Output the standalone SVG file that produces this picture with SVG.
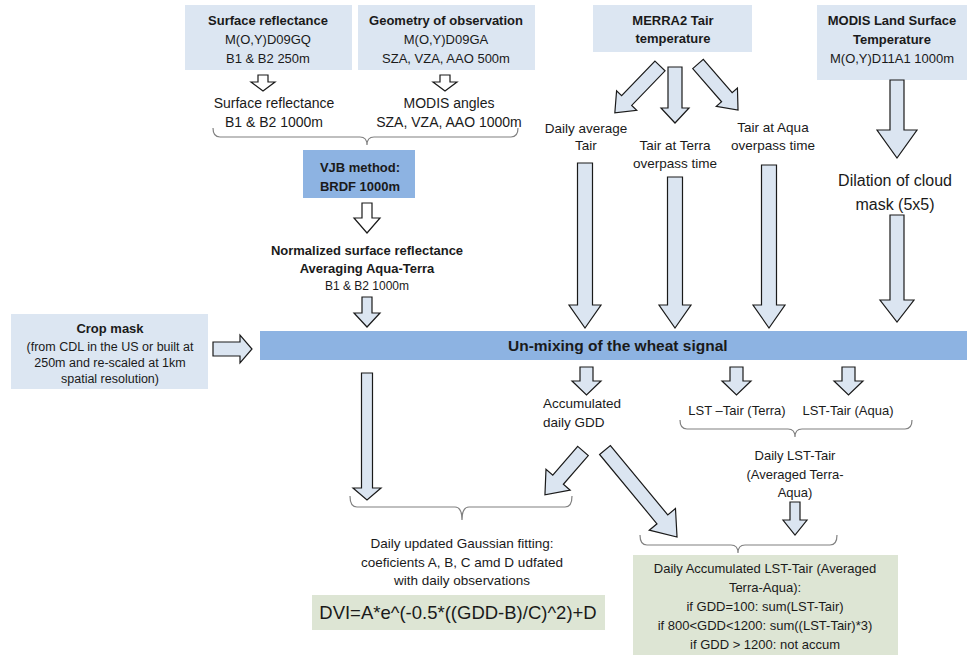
<svg xmlns="http://www.w3.org/2000/svg" width="967" height="659" viewBox="0 0 967 659">
<style>
text{font-family:"Liberation Sans",Arial,sans-serif;fill:#1a1a1a;text-anchor:middle}
.b{font-weight:bold}
.lb{fill:#dce6f2}
.mb{fill:#8db3e2}
.gr{fill:#dde5d4}
.ar{fill:#dbe5f1;stroke:#1a1a1a;stroke-width:1.2;stroke-linejoin:miter}
.aw{fill:#ffffff;stroke:#1a1a1a;stroke-width:1.2}
.br{fill:none;stroke:#808080;stroke-width:1.2}
</style>
<rect width="967" height="659" fill="#ffffff"/>
<g id="surface-reflectance">
<rect class="lb" x="185" y="5" width="167" height="65"/>
<text x="268" y="25" font-size="13" class="b">Surface reflectance</text>
<text x="268" y="44" font-size="13">M(O,Y)D09GQ</text>
<text x="268" y="63" font-size="13">B1 &amp; B2 250m</text>
</g>
<g id="geometry">
<rect class="lb" x="358" y="5" width="177" height="65"/>
<text x="446" y="25" font-size="13" class="b">Geometry of observation</text>
<text x="446" y="44" font-size="13">M(O,Y)D09GA</text>
<text x="446" y="63" font-size="13">SZA, VZA, AAO 500m</text>
</g>
<g id="merra2">
<rect class="lb" x="593" y="5" width="159" height="47"/>
<text x="673" y="25" font-size="13" class="b">MERRA2 Tair</text>
<text x="673" y="43" font-size="13" class="b">temperature</text>
</g>
<g id="modis-lst">
<rect class="lb" x="817" y="5" width="150" height="75"/>
<text x="892" y="25" font-size="13" class="b">MODIS Land Surface</text>
<text x="892" y="44" font-size="13" class="b">Temperature</text>
<text x="892" y="63" font-size="13">M(O,Y)D11A1 1000m</text>
</g>
<g id="sr-1000">
<text x="274" y="108" font-size="14">Surface reflectance</text>
<text x="274" y="127" font-size="14">B1 &amp; B2 1000m</text>
</g>
<g id="modis-angles">
<text x="449" y="108" font-size="14">MODIS angles</text>
<text x="449" y="127" font-size="14">SZA, VZA, AAO 1000m</text>
</g>
<g id="vjb">
<rect class="mb" x="303" y="150" width="112" height="48"/>
<text x="360" y="172" font-size="13" class="b">VJB method:</text>
<text x="360" y="191" font-size="13" class="b">BRDF 1000m</text>
</g>
<g id="normalized">
<text x="367" y="255" font-size="13" class="b">Normalized surface reflectance</text>
<text x="367" y="273" font-size="13" class="b">Averaging Aqua-Terra</text>
<text x="367" y="290" font-size="12">B1 &amp; B2 1000m</text>
</g>
<g id="daily-avg-tair">
<text x="586" y="133" font-size="13.5">Daily average</text>
<text x="586" y="150" font-size="13.5">Tair</text>
</g>
<g id="tair-terra">
<text x="675" y="150" font-size="13.5">Tair at Terra</text>
<text x="675" y="168" font-size="13.5">overpass time</text>
</g>
<g id="tair-aqua">
<text x="773" y="132" font-size="13.5">Tair at Aqua</text>
<text x="773" y="150" font-size="13.5">overpass time</text>
</g>
<g id="dilation">
<text x="895" y="186" font-size="16">Dilation of cloud</text>
<text x="895" y="210" font-size="16">mask (5x5)</text>
</g>
<g id="crop-mask">
<rect class="lb" x="11" y="314" width="197" height="75"/>
<text x="110" y="333" font-size="13" class="b">Crop mask</text>
<text x="110" y="351" font-size="12.5">(from CDL in the US or built at</text>
<text x="110" y="367" font-size="12.5">250m and re-scaled at 1km</text>
<text x="110" y="383" font-size="12.5">spatial resolution)</text>
</g>
<g id="unmixing">
<rect class="mb" x="260" y="331" width="707" height="29"/>
<text x="508" y="351" font-size="15.5" class="b" style="text-anchor:start">Un-mixing of the wheat signal</text>
</g>
<g id="accum-gdd">
<text x="543" y="408" font-size="13.5" style="text-anchor:start">Accumulated</text>
<text x="543" y="427" font-size="13.5" style="text-anchor:start">daily GDD</text>
</g>
<g id="lst-terra">
<text x="737" y="415" font-size="13">LST –Tair (Terra)</text>
</g>
<g id="lst-aqua">
<text x="848" y="415" font-size="13">LST-Tair (Aqua)</text>
</g>
<g id="daily-lst">
<text x="795" y="460" font-size="13">Daily LST-Tair</text>
<text x="795" y="479" font-size="13">(Averaged Terra-</text>
<text x="795" y="497" font-size="13">Aqua)</text>
</g>
<g id="gaussian">
<text x="462" y="548" font-size="13.5">Daily updated Gaussian fitting:</text>
<text x="462" y="567" font-size="13.5">coeficients A, B, C amd D udfated</text>
<text x="462" y="585" font-size="13.5">with daily observations</text>
</g>
<g id="dvi">
<rect class="gr" x="312" y="595" width="293" height="35"/>
<text x="458" y="619" font-size="18.5">DVI=A*e^(-0.5*((GDD-B)/C)^2)+D</text>
</g>
<g id="accum-lst">
<rect class="gr" x="633" y="555" width="265" height="100"/>
<text x="765" y="573" font-size="13">Daily Accumulated LST-Tair (Averaged</text>
<text x="765" y="592" font-size="13">Terra-Aqua):</text>
<text x="765" y="611" font-size="13">if GDD=100: sum(LST-Tair)</text>
<text x="765" y="630" font-size="13">if 800&lt;GDD&lt;1200: sum((LST-Tair)*3)</text>
<text x="765" y="649" font-size="13">if GDD &gt; 1200: not accum</text>
</g>
<g id="connectors">
<polygon class="aw" points="258,75 268,75 268,82 275,82 263,91 251,82 258,82"/>
<polygon class="aw" points="440,75 450,75 450,82 457,82 445,91 433,82 440,82"/>
<path class="br" d="M213,128 Q213,137 220,137 L360,137 Q367,137 367,145 Q367,137 374,137 L511,137 Q518,137 518,128"/>
<polygon class="aw" points="362,203 372,203 372,218 380,218 367,233 354,218 362,218"/>
<polygon class="ar" points="362,297 372,297 372,313 380,313 367,327 354,313 362,313"/>
<polygon class="ar" points="213,342 240,342 240,335 252,349 240,363 240,356 213,356"/>
<polygon class="ar" transform="translate(660,66) rotate(44)" points="-7,0 7,0 7,48 14,48 0,65 -14,48 -7,48"/>
<polygon class="ar" points="668,67 682,67 682,108 689,108 675,123 661,108 668,108"/>
<polygon class="ar" transform="translate(698,64) rotate(-41)" points="-7,0 7,0 7,44 14,44 0,61 -14,44 -7,44"/>
<polygon class="ar" points="577.5,163 592.5,163 592.5,305 601,305 585,328 569,305 577.5,305"/>
<polygon class="ar" points="667.5,177 682.5,177 682.5,305 691,305 675,328 659,305 667.5,305"/>
<polygon class="ar" points="761.5,165 776.5,165 776.5,305 785,305 769,328 753,305 761.5,305"/>
<polygon class="ar" points="890,80 904,80 904,130 917,130 897,158 877,130 890,130"/>
<polygon class="ar" points="890,215 904,215 904,300 914,300 897,322 880,300 890,300"/>
<polygon class="ar" points="361.5,373 372.5,373 372.5,488 381,488 367,500 353,488 361.5,488"/>
<polygon class="ar" points="580,367 593,367 593,381 601,381 586.5,395 572,381 580,381"/>
<polygon class="ar" points="730,367 743,367 743,381 751,381 736.5,395 722,381 730,381"/>
<polygon class="ar" points="842,367 855,367 855,381 863,381 848.5,395 834,381 842,381"/>
<path class="br" d="M680,420 Q680,429 687,429 L788,429 Q795,429 795,437 Q795,429 802,429 L905,429 Q912,429 912,420"/>
<polygon class="ar" transform="translate(583,451) rotate(41)" points="-7,0 7,0 7,38 16,38 0,58 -16,38 -7,38"/>
<polygon class="ar" transform="translate(605,450) rotate(-39.6)" points="-7,0 7,0 7,90 17,90 0,113 -17,90 -7,90"/>
<path class="br" d="M350,496 Q350,507 357,507 L455,507 Q462,507 462,520 Q462,507 469,507 L565,507 Q572,507 572,496"/>
<polygon class="ar" points="790,502 800,502 800,520 807,520 795,535 783,520 790,520"/>
<path class="br" d="M640,535 Q640,545 647,545 L731,545 Q738,545 738,553 Q738,545 745,545 L830,545 Q837,545 837,535"/>
</g>
</svg>
